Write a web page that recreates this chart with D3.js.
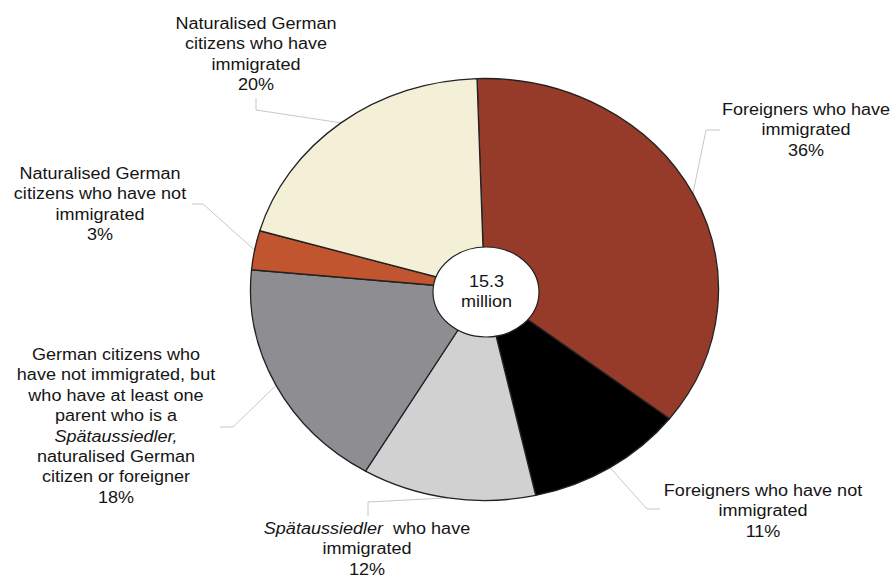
<!DOCTYPE html>
<html>
<head>
<meta charset="utf-8">
<script src="https://cdn.jsdelivr.net/npm/d3@7"></script>
<style>
  body { margin: 0; background: #fff; }
  text { font-family: "Liberation Sans", Arial, Helvetica, sans-serif; fill: #151515; }
</style>
</head>
<body>
<div id="chart"></div>
<script>
// slices, clockwise from the top
const categories = [
    "Foreigners who have immigrated",
    "Foreigners who have not immigrated",
    "Spätaussiedler who have immigrated",
    "German citizens who have not immigrated, but who have at least one parent who is a Spätaussiedler, naturalised German citizen or foreigner",
    "Naturalised German citizens who have not immigrated",
    "Naturalised German citizens who have immigrated"
];
const shares = [36, 11, 12, 18, 3, 20];
const colors = ["#963a29", "#000000", "#d1d1d1", "#8e8e92", "#c0552f", "#f3f0d7"];

// label text, *...* marks italic
const labelLines = [
    ["Foreigners who have", "immigrated"],
    ["Foreigners who have not", "immigrated"],
    ["*Spätaussiedler*  who have", "immigrated"],
    ["German citizens who", "have not immigrated, but", "who have at least one", "parent who is a", "*Spätaussiedler,*", "naturalised German", "citizen or foreigner"],
    ["Naturalised German", "citizens who have not", "immigrated"],
    ["Naturalised German", "citizens who have", "immigrated"]
];
const totalLabel = ["15.3", "million"];

const width = 894;
const height = 580;

// label placement: text centre/first baseline, leader elbow and end
const labelPos = [
    { x: 806, y: 115, elbow: [706, 130], end: [720, 130] },
    { x: 763, y: 496, elbow: [647, 509], end: [660, 509] },
    { x: 367, y: 534, elbow: [368, 502], end: [368, 516] },
    { x: 116, y: 360, elbow: [233, 427], end: [220, 427] },
    { x: 100, y: 179, elbow: [203, 204], end: [192, 204] },
    { x: 256, y: 29,  elbow: [256, 110], end: [256, 98] }
];

const pieCenter = { x: 484.5, y: 289.5 };
const radius = 211;
const stretch = 234 / 211;   // the chart is squashed into an ellipse
const lineGap = 20.4;
const fontSize = 16.4;
const textStretch = 1.1;

const svg = d3.select("#chart")
    .append("svg")
    .attr("width", width)
    .attr("height", height);

const pie = d3.pie()
    .sort(null)
    .value(d => d)
    .startAngle(-0.032)
    .endAngle(-0.032 + 2 * Math.PI);

const arcs = pie(shares);

const arc = d3.arc()
    .innerRadius(0)
    .outerRadius(radius);

// leader lines first, under the pie
const edgePoint = d => {
    const a = (d.startAngle + d.endAngle) / 2;
    return [pieCenter.x + stretch * radius * Math.sin(a), pieCenter.y - radius * Math.cos(a)];
};

svg.append("g")
    .selectAll("polyline")
    .data(arcs)
    .enter().append("polyline")
    .attr("points", (d, i) => [edgePoint(d), labelPos[i].elbow, labelPos[i].end].map(p => p.join(",")).join(" "))
    .attr("fill", "none")
    .attr("stroke", "#c8c8c8")
    .attr("stroke-width", 1);

const pieG = svg.append("g")
    .attr("transform", `translate(${pieCenter.x},${pieCenter.y}) scale(${stretch},1)`);

pieG.selectAll("path")
    .data(arcs)
    .enter().append("path")
    .attr("d", arc)
    .attr("fill", (d, i) => colors[i])
    .attr("stroke", "#222")
    .attr("stroke-width", 1.3)
    .attr("stroke-linejoin", "round")
    .attr("vector-effect", "non-scaling-stroke");

// white hole with the total
svg.append("ellipse")
    .attr("cx", pieCenter.x + 1.5)
    .attr("cy", pieCenter.y + 2.5)
    .attr("rx", 53)
    .attr("ry", 45)
    .attr("fill", "#fff")
    .attr("stroke", "#222")
    .attr("stroke-width", 1.2);

function addTextBlock(x, y, lines) {
    const g = svg.append("g")
        .attr("transform", `translate(${x},${y}) scale(${textStretch},1)`);
    lines.forEach((line, k) => {
        const t = g.append("text")
            .attr("x", 0)
            .attr("y", k * lineGap)
            .attr("text-anchor", "middle")
            .attr("font-size", fontSize)
            .attr("xml:space", "preserve");
        line.split("*").forEach((part, j) => {
            if (part === "") return;
            t.append("tspan")
                .attr("font-style", j % 2 === 1 ? "italic" : "normal")
                .text(part);
        });
    });
}

labelLines.forEach((lines, i) => {
    addTextBlock(labelPos[i].x, labelPos[i].y, lines.concat([shares[i] + "%"]));
});

addTextBlock(pieCenter.x + 2, pieCenter.y - 2.5, totalLabel);
</script>
</body>
</html>
